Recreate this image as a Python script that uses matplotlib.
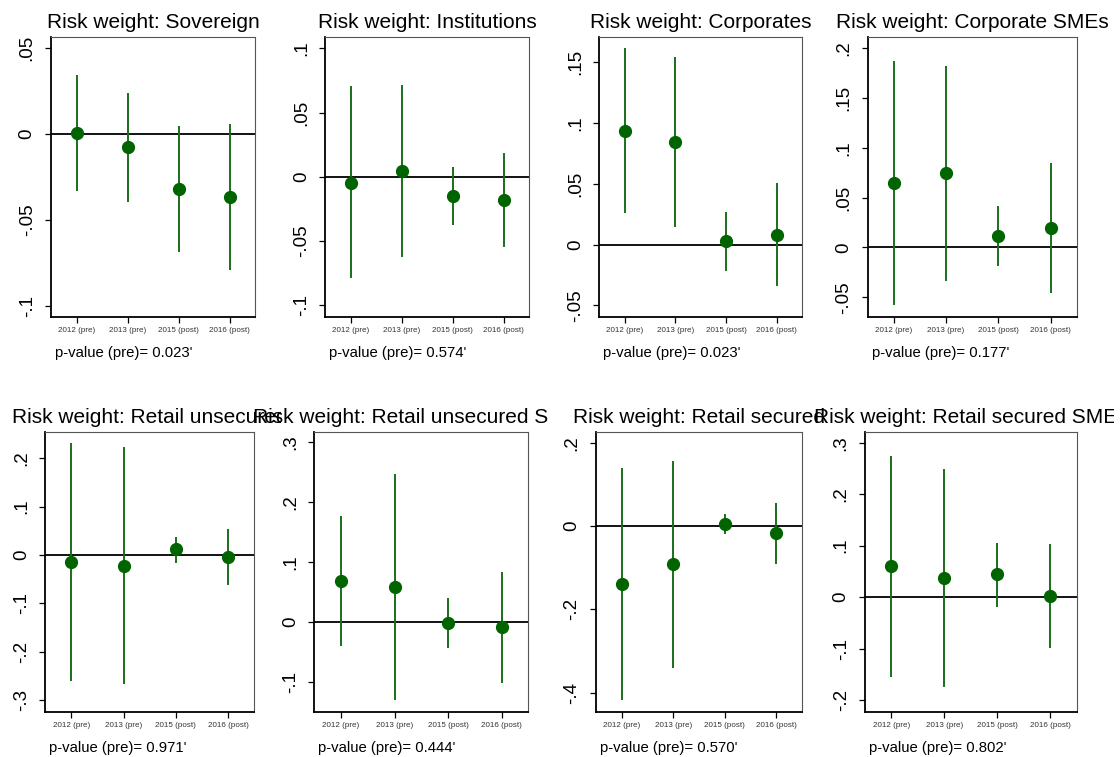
import numpy as np
import matplotlib
matplotlib.use("Agg")
import matplotlib.pyplot as plt
from matplotlib.ticker import MultipleLocator, FuncFormatter
from matplotlib.transforms import Bbox, TransformedBbox

plt.rcParams['font.family'] = ['Liberation Sans', 'DejaVu Sans']

# data
years = ["2012 (pre)", "2013 (pre)", "2015 (post)", "2016 (post)"]
titles = ["Risk weight: Sovereign", "Risk weight: Institutions",
          "Risk weight: Corporates", "Risk weight: Corporate SMEs",
          "Risk weight: Retail unsecured", "Risk weight: Retail unsecured SMEs",
          "Risk weight: Retail secured", "Risk weight: Retail secured SMEs"]
pvals = ["0.023", "0.574", "0.023", "0.177", "0.971", "0.444", "0.570", "0.802"]

coef = [[0.0008, -0.0076, -0.0322, -0.0368],
        [-0.0044, 0.0047, -0.0148, -0.0179],
        [0.0937, 0.0846, 0.0033, 0.0082],
        [0.0649, 0.0743, 0.0113, 0.0197],
        [-0.0138, -0.0220, 0.0117, -0.0034],
        [0.0682, 0.0587, -0.0011, -0.0089],
        [-0.1384, -0.0920, 0.0040, -0.0168],
        [0.0602, 0.0363, 0.0440, 0.0026]]
ci_low = [[-0.0330, -0.0394, -0.0688, -0.0790],
          [-0.0788, -0.0620, -0.0373, -0.0542],
          [0.0258, 0.0148, -0.0214, -0.0338],
          [-0.0580, -0.0338, -0.0185, -0.0456],
          [-0.2600, -0.2676, -0.0159, -0.0614],
          [-0.0408, -0.1300, -0.0430, -0.1017],
          [-0.4168, -0.3400, -0.0200, -0.0904],
          [-0.1560, -0.1742, -0.0188, -0.0984]]
ci_high = [[0.0343, 0.0240, 0.0047, 0.0058],
           [0.0710, 0.0715, 0.0080, 0.0184],
           [0.1614, 0.1543, 0.0272, 0.0505],
           [0.1873, 0.1820, 0.0415, 0.0850],
           [0.2324, 0.2240, 0.0380, 0.0538],
           [0.1770, 0.2475, 0.0402, 0.0838],
           [0.1400, 0.1550, 0.0280, 0.0560],
           [0.2746, 0.2480, 0.1056, 0.1036]]
ylims = [(-0.1066, 0.0566), (-0.109, 0.1088), (-0.0596, 0.1708), (-0.0698, 0.2113),
         (-0.324, 0.255), (-0.150, 0.318), (-0.4456, 0.2264), (-0.2227, 0.3214)]
ystep = [0.05, 0.05, 0.05, 0.05, 0.1, 0.1, 0.2, 0.1]

W, H = 1120, 757
# axes boxes in pixels: left, right, top, bottom
boxes = [(51, 255, 37, 317), (325.3, 529.3, 37, 317), (599.3, 802.3, 37, 317), (867.7, 1076.7, 37, 317),
         (45.3, 254.3, 431.7, 711.7), (314.3, 528.3, 431.7, 711.7), (595.7, 802.3, 431.7, 711.7),
         (865, 1076.7, 431.7, 711.7)]
# horizontal clip range of each title (stata clips titles to the graph cell)
title_clip = [(0, 280), (280, 560), (560, 840), (830, 1120),
              (0, 281), (0, 548), (560, 826), (800, 1114)]

line_col = '#1a6e1a'
dot_col = '#006400'

def stata_fmt(v, pos):
    s = f"{round(v, 6):g}"
    return s.replace("0.", ".")

fig = plt.figure(figsize=(W / 100, H / 100), dpi=100)
fig.patch.set_facecolor('white')

x = np.arange(1, 5)
for i in range(8):
    l, r, t, b = boxes[i]
    ax = fig.add_axes([l / W, 1 - b / H, (r - l) / W, (b - t) / H])
    ax.axhline(0, color='black', lw=1.3, zorder=1)
    ax.vlines(x, ci_low[i], ci_high[i], color=line_col, lw=1.4, zorder=2)
    ax.plot(x, coef[i], 'o', color=dot_col, ms=8.5, zorder=3)
    ax.set_xlim(0.5, 4.5)
    ax.set_ylim(*ylims[i])
    ax.set_xticks(x)
    ax.set_xticklabels(years, fontsize=5.8, color='#333333')
    ax.yaxis.set_major_locator(MultipleLocator(ystep[i]))
    ax.yaxis.set_major_formatter(FuncFormatter(stata_fmt))
    ax.tick_params(axis='x', length=4.5, width=0.9, pad=3)
    ax.tick_params(axis='y', length=4, width=0.9, pad=7, labelsize=13.5, labelrotation=90)
    for lab in ax.get_yticklabels():
        lab.set_va('center')
    for s in ['left', 'bottom']:
        ax.spines[s].set_linewidth(1.3)
        ax.spines[s].set_color('black')
    for s in ['top', 'right']:
        ax.spines[s].set_linewidth(0.8)
        ax.spines[s].set_color('#555555')

    cx = (l + r) / 2
    tt = fig.text(cx / W, 1 - (t - 9) / H, titles[i], ha='center', va='baseline', fontsize=15)
    c0, c1 = title_clip[i]
    tt.set_clip_box(TransformedBbox(Bbox.from_extents(c0 / W, 0, c1 / W, 1), fig.transFigure))
    tt.set_clip_on(True)

    fig.text((l + 4) / W, 1 - (b + 40) / H, "p-value (pre)= " + pvals[i] + "'",
             ha='left', va='baseline', fontsize=10.7)

fig.savefig("out.png", dpi=100, facecolor='white')
